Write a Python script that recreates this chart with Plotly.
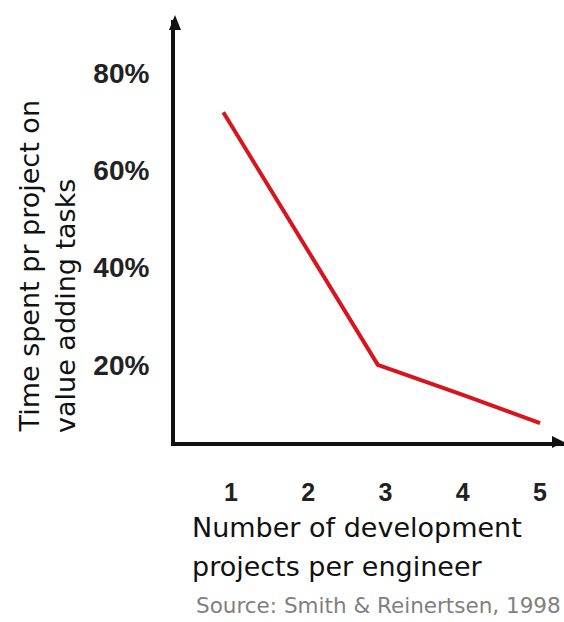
import plotly.graph_objects as go

# Data
projects = [0.9, 2.0, 2.9, 4.0, 5.0]
value_time = [72, 43.5, 20, 13.8, 8]
x_ticks = [1, 2, 3, 4, 5]
x_tick_labels = ["1", "2", "3", "4", "5"]
y_ticks = [20, 40, 60, 80]
y_tick_labels = ["20%", "40%", "60%", "80%"]
x_title_lines = ["Number of development", "projects per engineer"]
y_title_lines = ["Time spent pr project on", "value adding tasks"]
source_text = "Source: Smith & Reinertsen, 1998"

W, H = 564, 622
L, R, T, B = 175, 0, 20, 180
pw, ph = W - L - R, H - T - B

def px(xpix):
    return (xpix - L) / pw

def py(ypix):
    return (H - B - ypix) / ph

fig = go.Figure()
fig.add_trace(go.Scatter(x=projects, y=value_time, mode="lines",
                         line=dict(color="#d8141c", width=4), showlegend=False,
                         hoverinfo="skip"))

FONT = "Liberation Sans, Arial, sans-serif"
WIDE = "DejaVu Sans, sans-serif"

fig.update_layout(
    width=W, height=H,
    margin=dict(l=L, r=R, t=T, b=B, pad=0),
    paper_bgcolor="white", plot_bgcolor="white",
    font=dict(family=FONT, color="#111"),
    xaxis=dict(range=[0.275, 5.31], tickvals=x_ticks, ticktext=x_tick_labels,
               showgrid=False, zeroline=False, showline=True, linecolor="#111",
               linewidth=4, ticks="", ticklabelstandoff=25,
               tickfont=dict(size=25, weight="bold", color="#222", family=FONT)),
    yaxis=dict(range=[4.1, 91], tickvals=y_ticks, ticktext=y_tick_labels,
               showgrid=False, zeroline=False, showline=True, linecolor="#111",
               linewidth=4, ticks="", ticklabelstandoff=16,
               tickfont=dict(size=28, weight="bold", color="#222", family=FONT)),
)

# Arrow heads at axis ends
fig.add_shape(type="path", xref="paper", yref="paper",
              xsizemode="pixel", ysizemode="pixel", xanchor=0, yanchor=1,
              path="M -6 -10 L 6 -10 L 0 5 Z", fillcolor="#111", line=dict(width=0))
fig.add_shape(type="path", xref="paper", yref="paper",
              xsizemode="pixel", ysizemode="pixel", xanchor=1, yanchor=0,
              path="M -12 -6 L -12 6 L 0 0 Z", fillcolor="#111", line=dict(width=0))

# X axis title (two lines)
for i, (line_txt, ycen) in enumerate(zip(x_title_lines, [527, 566])):
    fig.add_annotation(text=line_txt, xref="paper", yref="paper",
                       x=px(190), y=py(ycen), xanchor="left", yanchor="middle",
                       showarrow=False,
                       font=dict(size=27, color="#111", family=WIDE))
# Source
fig.add_annotation(text=source_text,
                   xref="paper", yref="paper", x=px(194), y=py(605),
                   xanchor="left", yanchor="middle", align="left", showarrow=False,
                   font=dict(size=21.5, color="#808080", family=WIDE))
# Y axis title (two lines, bottom aligned)
for line_txt, xcen in zip(y_title_lines, [29, 65]):
    fig.add_annotation(text=line_txt, xref="paper", yref="paper",
                       x=px(xcen), y=py(435), xanchor="center", yanchor="bottom",
                       textangle=-90, showarrow=False,
                       font=dict(size=27, color="#111", family=WIDE))

fig.write_html("out.html", config={"displayModeBar": False},
               post_script="document.body.style.margin='0';document.body.style.overflow='hidden';")
